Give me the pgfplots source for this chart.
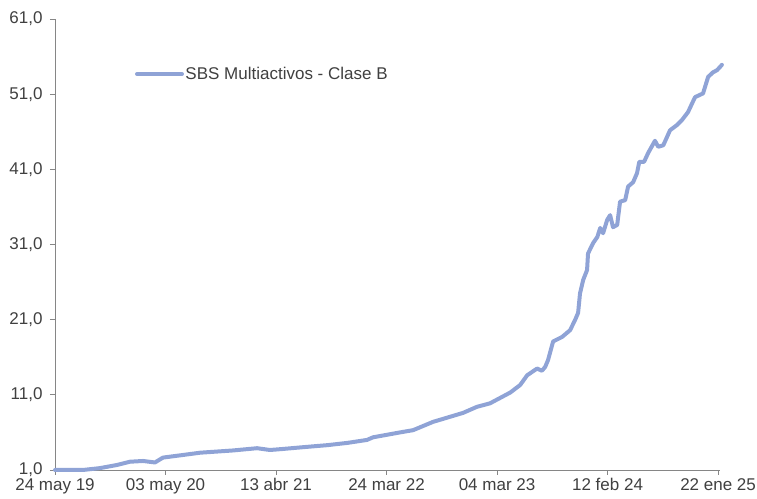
\documentclass[border=0pt]{standalone}
\usepackage{fontspec}
\setmainfont{Liberation Sans}
\usepackage{pgfplots}
\pgfplotsset{compat=1.18}
\definecolor{serie}{HTML}{8FA3D6}
\definecolor{axgray}{HTML}{868686}
\definecolor{txt}{HTML}{404040}
\begin{document}
\begin{tikzpicture}
\begin{axis}[name=ax, scale only axis, width=665pt, height=451pt,
  xmin=0, xmax=2076, ymin=1, ymax=61,
  axis lines*=left,
  axis line style={axgray, line width=0.8pt},
  tick style={axgray, line width=0.8pt},
  tick align=outside, major tick length=5pt,
  xtick={0,345,690,1035,1380,1725,2070},
  xticklabels={24 may 19,03 may 20,13 abr 21,24 mar 22,04 mar 23,12 feb 24,22 ene 25},
  ytick={1,11,21,31,41,51,61},
  yticklabel shift=4pt,
  y tick label style={/pgf/number format/.cd, fixed, fixed zerofill, precision=1, use comma, assume math mode=true},
  ticklabel style={font=\fontsize{17}{20}\selectfont, text=txt},
  clip=false,
  legend style={draw=none, fill=none, at={(rel axis cs:0.12,0.878)}, anchor=west,
    font=\fontsize{17}{20}\selectfont, text=txt, inner sep=0pt,
    nodes={inner sep=1.5pt}},
  legend image code/.code={\draw[serie, line width=4pt] (0pt,0pt) -- (45pt,0pt);},
]
\addplot[serie, line width=4pt, line join=round, line cap=round] coordinates {
(0,1.0) (87,1.0) (140,1.25) (194,1.67) (234,2.1) (275,2.2) (312,2.0) (337,2.65)
(400,3.0) (453,3.3) (556,3.6) (631,3.9) (671,3.66) (712,3.8) (765,4.0) (849,4.3)
(912,4.6) (974,5.0) (993,5.35) (1077,6.0) (1118,6.3) (1180,7.4) (1274,8.6)
(1317,9.4) (1358,9.87) (1421,11.3) (1452,12.3) (1474,13.6) (1505,14.5) (1520,14.2)
(1530,14.7) (1539,15.6) (1555,18.1) (1583,18.7) (1608,19.6) (1624,21.0) (1633,21.9)
(1639,24.5) (1649,26.3) (1661,27.6) (1664,29.8) (1680,31.2) (1693,32.0) (1702,33.2)
(1711,32.5) (1724,34.3) (1733,34.9) (1742,33.3) (1755,33.6) (1764,36.7) (1780,36.9)
(1789,38.7) (1805,39.3) (1817,40.5) (1824,42.0) (1839,42.0) (1852,43.2) (1873,44.8)
(1883,44.0) (1899,44.2) (1920,46.2) (1942,46.9) (1958,47.6) (1976,48.6) (1998,50.6)
(2023,51.1) (2039,53.3) (2054,53.9) (2067,54.2) (2082,54.9)
};
\addlegendentry{SBS Multiactivos - Clase B}
\end{axis}
\pgfresetboundingbox
\path ([xshift=-55pt,yshift=-29pt]ax.south west) rectangle ([xshift=37pt,yshift=19pt]ax.north east);
\end{tikzpicture}
\end{document}
